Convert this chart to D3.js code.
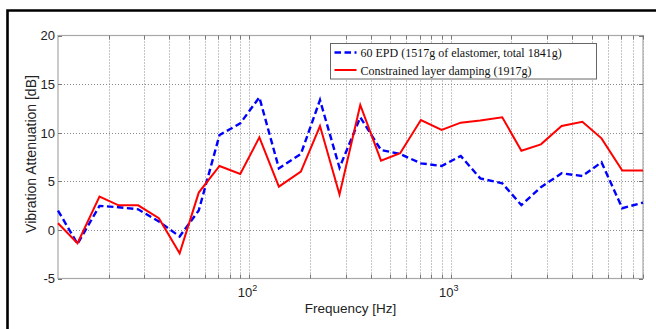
<!DOCTYPE html>
<html>
<head>
<meta charset="utf-8">
<script src="https://cdn.jsdelivr.net/npm/d3@7"></script>
<style>
  html, body { margin: 0; padding: 0; background: #fff; }
  svg { display: block; }
</style>
</head>
<body>
<svg id="chart" width="656" height="329"></svg>
<script>
// 1/3-octave band frequencies [Hz]
const freqs = [11.2, 14, 18, 22.4, 28, 35.5, 45, 56, 71, 90, 112, 140, 180, 224, 280, 355,
  450, 560, 710, 900, 1120, 1400, 1800, 2240, 2800, 3550, 4500, 5600, 7100, 9000]

// 60 EPD (blue dashed)
const epdValues = [1.99, -1.44, 2.47, 2.33, 2.12, 0.86, -0.68, 2.0, 9.76, 10.96, 13.64, 6.34, 7.81, 13.36, 6.4, 11.58,
  8.22, 7.81, 6.85, 6.58, 7.6, 5.3, 4.8, 2.55, 4.4, 5.82, 5.55, 6.96, 2.23, 2.81]

// Constrained layer damping (red solid)
const cldValues = [0.69, -1.37, 3.42, 2.53, 2.53, 1.2, -2.4, 3.84, 6.58, 5.76, 9.52, 4.45, 6.0, 10.69, 3.65, 12.85,
  7.13, 7.88, 11.3, 10.28, 11.03, 11.25, 11.58, 8.15, 8.8, 10.69, 11.13, 9.42, 6.1, 6.1]

const yTicks = [-5, 0, 5, 10, 15, 20]
const xGridTicks = [20, 30, 40, 50, 60, 70, 80, 90, 100, 200, 300, 400, 500, 600, 700, 800, 900,
  1000, 2000, 3000, 4000, 5000, 6000, 7000, 8000, 9000]
const xLabelTicks = [100, 1000]

const series = [
  { name: '60 EPD (1517g of elastomer, total 1841g)', values: epdValues, color: '#0000ff', dash: '6.5,3.5', width: 2.4 },
  { name: 'Constrained layer damping (1917g)', values: cldValues, color: '#ff0000', dash: null, width: 2 }
]

const plot = { left: 58, top: 35.5, right: 643, bottom: 278.5 }

const svg = d3.select('#chart')

// Outer figure frame
svg.append('path')
  .attr('d', 'M7.5,330 V10.5 H660')
  .attr('fill', 'none')
  .attr('stroke', '#000')
  .attr('stroke-width', 2.6)

const x = d3.scaleLog().domain([11.2, 9000]).range([plot.left, plot.right])
const y = d3.scaleLinear().domain([-5, 20]).range([plot.bottom, plot.top])

const g = svg.append('g')

// Grid
g.append('g').selectAll('line')
  .data(xGridTicks)
  .join('line')
  .attr('x1', d => Math.round(x(d)) + 0.5)
  .attr('x2', d => Math.round(x(d)) + 0.5)
  .attr('y1', plot.top)
  .attr('y2', plot.bottom)
  .attr('stroke', '#8a8a8a')
  .attr('stroke-width', 1)
  .attr('stroke-dasharray', '1,2')

g.append('g').selectAll('line')
  .data(yTicks.slice(1, -1))
  .join('line')
  .attr('x1', plot.left)
  .attr('x2', plot.right)
  .attr('y1', d => Math.round(y(d)) + 0.5)
  .attr('y2', d => Math.round(y(d)) + 0.5)
  .attr('stroke', '#8a8a8a')
  .attr('stroke-width', 1)
  .attr('stroke-dasharray', '1,2')

// Axes box
g.append('rect')
  .attr('x', plot.left)
  .attr('y', plot.top)
  .attr('width', plot.right - plot.left)
  .attr('height', plot.bottom - plot.top)
  .attr('fill', 'none')
  .attr('stroke', '#a8a8a8')
  .attr('stroke-width', 1.2)

// Small inner ticks
const tickLen = 4
g.append('g').selectAll('path')
  .data(xGridTicks)
  .join('path')
  .attr('d', d => {
    const px = Math.round(x(d)) + 0.5
    return `M${px},${plot.bottom} v${-tickLen} M${px},${plot.top} v${tickLen}`
  })
  .attr('stroke', '#777')
  .attr('stroke-width', 1)

g.append('g').selectAll('path')
  .data(yTicks)
  .join('path')
  .attr('d', d => {
    const py = Math.round(y(d)) + 0.5
    return `M${plot.left},${py} h${tickLen} M${plot.right},${py} h${-tickLen}`
  })
  .attr('stroke', '#777')
  .attr('stroke-width', 1)

const font = '"Liberation Sans", Arial, sans-serif'

// Y tick labels
g.append('g').selectAll('text')
  .data(yTicks)
  .join('text')
  .attr('x', plot.left - 3)
  .attr('y', d => y(d) + 4.8)
  .attr('text-anchor', 'end')
  .attr('font-family', font)
  .attr('font-size', 13)
  .attr('fill', '#222')
  .text(d => d)

// X tick labels 10^n
const xl = g.append('g').selectAll('text')
  .data(xLabelTicks)
  .join('text')
  .attr('x', d => x(d) - 2)
  .attr('y', plot.bottom + 18)
  .attr('text-anchor', 'middle')
  .attr('font-family', font)
  .attr('font-size', 13)
  .attr('fill', '#222')
xl.append('tspan').text('10')
xl.append('tspan')
  .attr('dy', -6)
  .attr('font-size', 9)
  .text(d => Math.round(Math.log10(d)))

// Axis titles
g.append('text')
  .attr('x', (plot.left + plot.right) / 2)
  .attr('y', plot.bottom + 34.5)
  .attr('text-anchor', 'middle')
  .attr('font-family', font)
  .attr('font-size', 13.5)
  .attr('fill', '#222')
  .text('Frequency [Hz]')

g.append('text')
  .attr('transform', `translate(36,${(plot.top + plot.bottom) / 2 - 3}) rotate(-90)`)
  .attr('text-anchor', 'middle')
  .attr('font-family', font)
  .attr('font-size', 14)
  .attr('fill', '#222')
  .text('Vibration Attenuation [dB]')

// Lines
const line = d3.line()
  .x(d => x(d[0]))
  .y(d => y(d[1]))

g.append('g').selectAll('path')
  .data(series)
  .join('path')
  .attr('d', s => line(freqs.map((f, i) => [f, s.values[i]])))
  .attr('fill', 'none')
  .attr('stroke', s => s.color)
  .attr('stroke-width', s => s.width)
  .attr('stroke-dasharray', s => s.dash)
  .attr('stroke-linejoin', 'miter')

// Legend
const legend = g.append('g').attr('transform', 'translate(330.5,43.5)')
legend.append('rect')
  .attr('width', 266)
  .attr('height', 35.5)
  .attr('fill', '#fff')
  .attr('stroke', '#666')
  .attr('stroke-width', 1)

const items = legend.selectAll('g.item')
  .data(series)
  .join('g')
  .attr('class', 'item')
  .attr('transform', (d, i) => `translate(0,${9 + i * 17.5})`)

items.append('line')
  .attr('x1', 4)
  .attr('x2', 26)
  .attr('stroke', d => d.color)
  .attr('stroke-width', d => d.width)
  .attr('stroke-dasharray', d => d.dash)

items.append('text')
  .attr('x', 30)
  .attr('y', 4.5)
  .attr('font-family', '"Liberation Serif", "Times New Roman", serif')
  .attr('font-size', 12)
  .attr('fill', '#111')
  .text(d => d.name)
</script>
</body>
</html>
